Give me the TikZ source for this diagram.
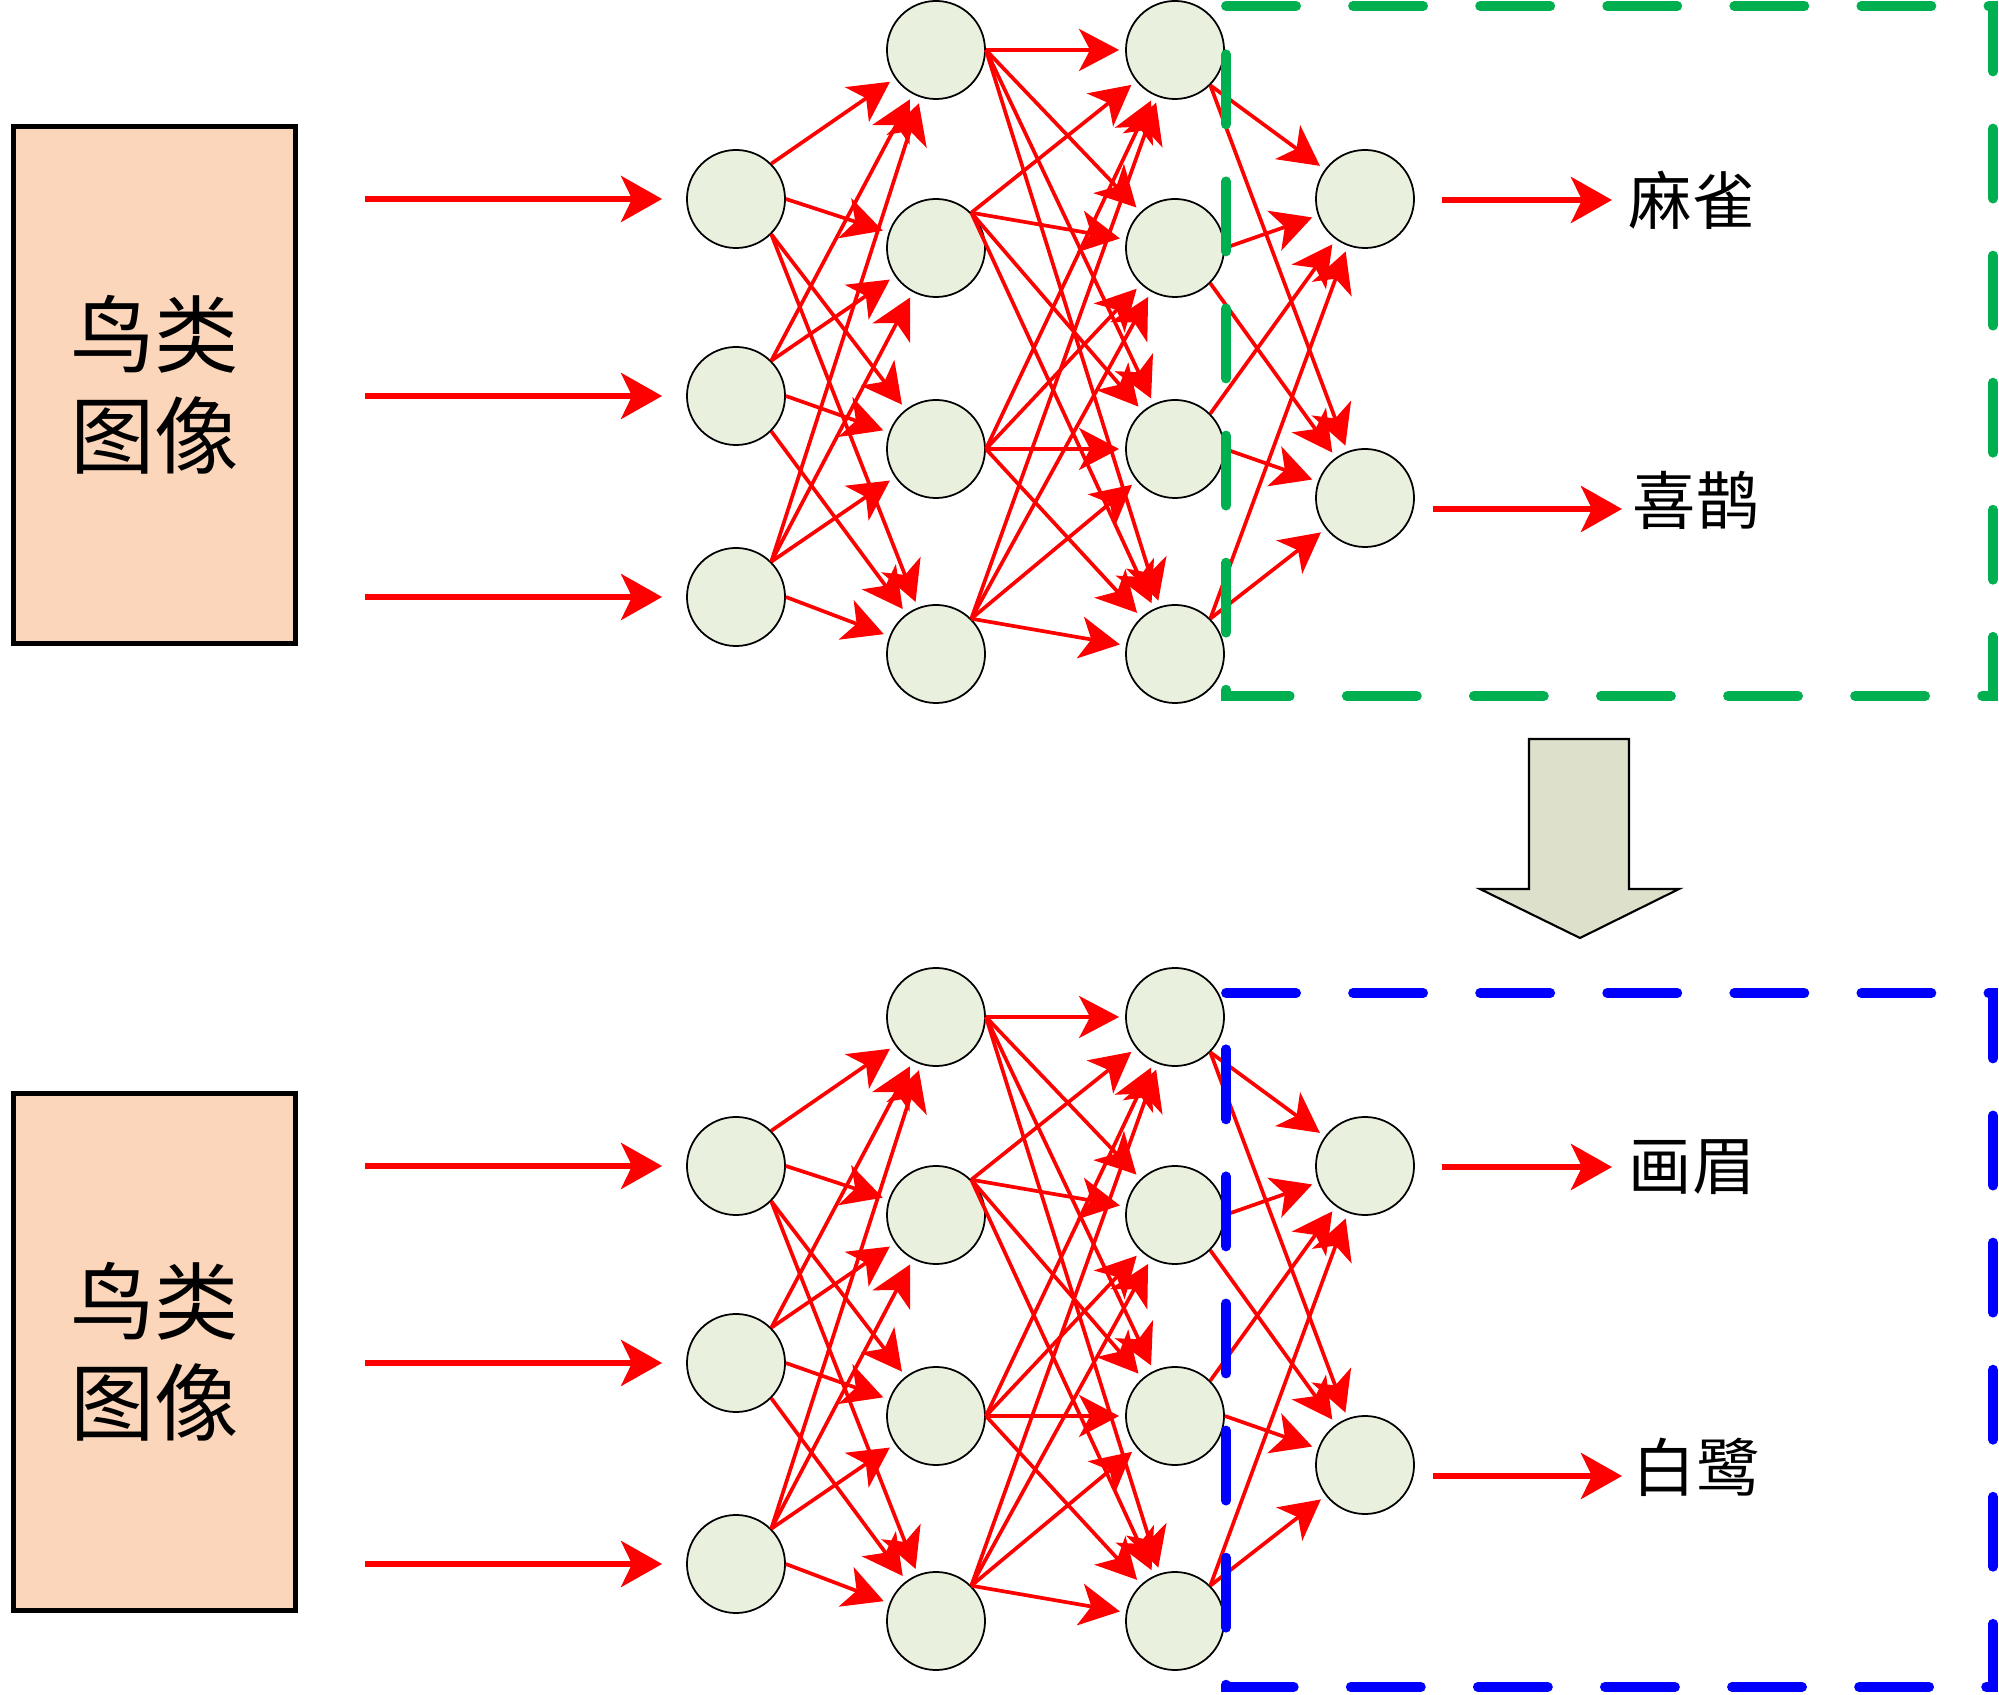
\documentclass[tikz,border=0pt]{standalone}
\usepackage{fontspec}
\newfontfamily\cjk{Noto Sans CJK SC}
\usetikzlibrary{arrows.meta}

\definecolor{boxfill}{RGB}{252,214,186}
\definecolor{nodefill}{RGB}{234,240,222}
\definecolor{downfill}{RGB}{221,224,202}
\definecolor{pptgreen}{RGB}{0,176,80}

\tikzset{
  neuron/.style={circle, draw=black, line width=0.5pt, fill=nodefill, minimum size=0.98cm, inner sep=0pt},
  imgbox/.style={draw=black, line width=1.4pt, fill=boxfill, minimum width=2.81cm, minimum height=5.16cm,
    align=center, font=\cjk\fontsize{24}{28.7}\selectfont},
  classlab/.style={inner sep=0pt, font=\cjk\fontsize{18}{20}\selectfont},
  conn/.style={red, line width=1.05pt, -{Stealth[length=0.4cm,width=0.42cm,inset=0.11cm]}, shorten >=0.06cm},
  inarrow/.style={red, line width=1.7pt, -{Stealth[length=0.41cm,width=0.46cm,inset=0.11cm]}},
  dashbox/.style={line width=2.8pt, line cap=round, dash pattern=on 0.7cm off 0.57cm},
}

\begin{document}
\begin{tikzpicture}[x=0.01cm, y=-0.01cm]
    \useasboundingbox (0,0) rectangle (1999,1695);

    % due pannelli: prima e dopo
    \foreach \p/\dy/\la/\lb in {t/0/麻雀/喜鹊, b/967/画眉/白鹭} {
        % immagine in ingresso
        \node[imgbox] (\p img) at (154.5, 385+\dy) {鸟类\\图像};

        % strati della rete
        \foreach \i/\y in {1/199, 2/396, 3/597} {
            \node[neuron] (\p a\i) at (736, \y+\dy) {};
            \coordinate (\p in\i) at (365, \y+\dy);
            \draw[inarrow, shorten >=0.24cm] (\p in\i) -- (\p a\i);
        }
        \foreach \i/\y in {1/50, 2/248, 3/449, 4/654} {
            \node[neuron] (\p b\i) at (936, \y+\dy) {};
            \node[neuron] (\p c\i) at (1175, \y+\dy) {};
        }
        \foreach \i/\y in {1/199, 2/498}
            \node[neuron] (\p o\i) at (1365, \y+\dy) {};

        % connessioni (punto di attacco a passi di 45 gradi)
        \foreach \i/\yi in {1/199, 2/396, 3/597}
            \foreach \j/\yj in {1/50, 2/248, 3/449, 4/654} {
                \pgfmathtruncatemacro\sa{max(-45,min(45,45*round(atan2(\yi-\yj,200)/45)))}
                \draw[conn] (\p a\i.\sa) -- (\p b\j);
            }
        \foreach \i/\sa in {1/0, 2/45, 3/0, 4/45}
            \foreach \j in {1,...,4}
                \draw[conn] (\p b\i.\sa) -- (\p c\j);
        \foreach \i/\yi in {1/50, 2/248, 3/449, 4/654}
            \foreach \j/\yj in {1/199, 2/498} {
                \pgfmathtruncatemacro\sa{max(-45,min(45,45*round(atan2(\yi-\yj,190)/45)))}
                \draw[conn] (\p c\i.\sa) -- (\p o\j);
            }

        % classi in uscita
        \node[classlab] (\p la) at (1692, 200+\dy) {\la};
        \node[classlab] (\p lb) at (1696, 500+\dy) {\lb};
        \coordinate (\p oa) at (1442, 200+\dy);
        \coordinate (\p ob) at (1433, 509+\dy);
        \draw[inarrow, shorten >=0.16cm] (\p oa) -- (\p oa -| \p la.west);
        \draw[inarrow, shorten >=0.1cm] (\p ob) -- (\p ob -| \p lb.west);
    }

    % riquadri tratteggiati
    \draw[dashbox, pptgreen] (1226,6) -- (1993,6) -- (1993,696) -- (1226,696) -- cycle;
    \draw[dashbox, blue] (1226,993) -- (1993,993) -- (1993,1687) -- (1226,1687) -- cycle;

    % freccia verso il basso
    \draw[fill=downfill, line width=0.6pt] (1529,739) -- (1629,739) -- (1629,889) -- (1679,889)
        -- (1580,938) -- (1480,889) -- (1529,889) -- cycle;
\end{tikzpicture}
\end{document}
